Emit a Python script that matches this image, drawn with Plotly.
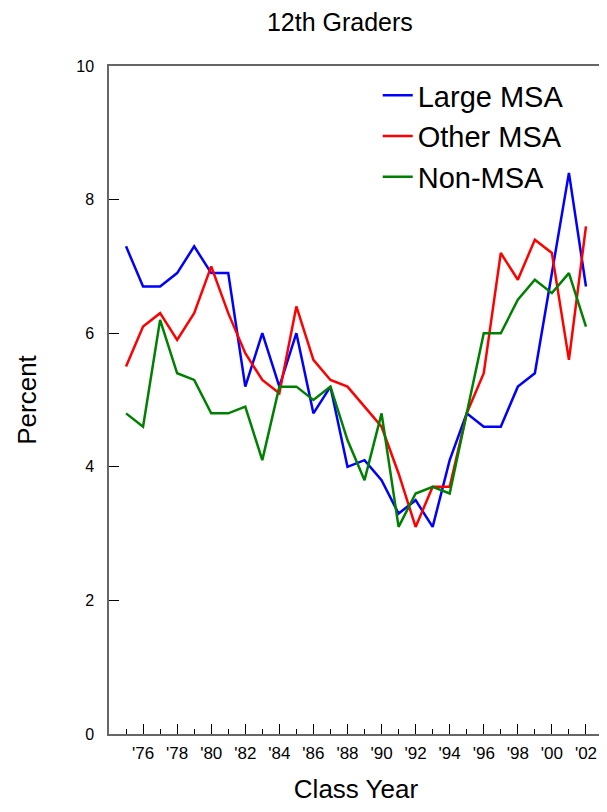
import plotly.graph_objects as go

# Class years and percent values
years = list(range(1975, 2003))

large_msa = [7.3, 6.7, 6.7, 6.9, 7.3, 6.9, 6.9, 5.2, 6.0, 5.2, 6.0, 4.8, 5.2, 4.0,
             4.1, 3.8, 3.3, 3.5, 3.1, 4.1, 4.8, 4.6, 4.6, 5.2, 5.4, 6.9, 8.4, 6.7]
other_msa = [5.5, 6.1, 6.3, 5.9, 6.3, 7.0, 6.3, 5.7, 5.3, 5.1, 6.4, 5.6, 5.3, 5.2,
             4.9, 4.6, 3.9, 3.1, 3.7, 3.7, 4.8, 5.4, 7.2, 6.8, 7.4, 7.2, 5.6, 7.6]
non_msa = [4.8, 4.6, 6.2, 5.4, 5.3, 4.8, 4.8, 4.9, 4.1, 5.2, 5.2, 5.0, 5.2, 4.4,
           3.8, 4.8, 3.1, 3.6, 3.7, 3.6, 4.8, 6.0, 6.0, 6.5, 6.8, 6.6, 6.9, 6.1]

tick_years = list(range(1976, 2003, 2))
tick_labels = ["'76", "'78", "'80", "'82", "'84", "'86", "'88",
               "'90", "'92", "'94", "'96", "'98", "'00", "'02"]

font = "Liberation Sans, Arial, sans-serif"

fig = go.Figure()
fig.add_trace(go.Scatter(x=years, y=large_msa, mode="lines", name="Large MSA",
                         line=dict(color="#0000FF", width=2.5)))
fig.add_trace(go.Scatter(x=years, y=other_msa, mode="lines", name="Other MSA",
                         line=dict(color="#FF0000", width=2.5)))
fig.add_trace(go.Scatter(x=years, y=non_msa, mode="lines", name="Non-MSA",
                         line=dict(color="#008000", width=2.5)))

# page has an 8px body margin, so the figure is sized to avoid scrollbars
fig.update_layout(
	width=598, height=796,
	margin=dict(l=101, r=1, t=58, b=68),
	plot_bgcolor="white", paper_bgcolor="white",
	font=dict(family=font, color="black"),
	title=dict(text="12th Graders", x=0.555, xanchor="center", y=0.982, yanchor="middle",
	           font=dict(size=25)),
	showlegend=True,
	legend=dict(x=0.544, y=0.994, xanchor="left", yanchor="top",
	            font=dict(size=29), bgcolor="rgba(0,0,0,0)",
	            itemwidth=30, tracegroupgap=0),
)

fig.update_xaxes(
	range=[1974, 2003], showgrid=False, zeroline=False,
	showline=True, linecolor="#666666", linewidth=1.5, mirror=True,
	tickmode="array", tickvals=tick_years, ticktext=tick_labels,
	ticks="inside", ticklen=10, tickcolor="black", tickwidth=1,
	minor=dict(ticks="inside", ticklen=5, dtick=1, tick0=1975, tickcolor="black", showgrid=False),
	tickfont=dict(size=17), ticklabelstandoff=3,
	title=dict(text="Class Year", font=dict(size=26), standoff=22),
)

fig.update_yaxes(
	range=[0, 10], showgrid=False, zeroline=False,
	showline=True, linecolor="#666666", linewidth=1.5, mirror=True,
	tickmode="linear", tick0=0, dtick=2,
	ticks="inside", ticklen=10, tickcolor="black", tickwidth=1,
	tickfont=dict(size=16), ticklabelstandoff=10,
	title=dict(text="Percent", font=dict(size=26), standoff=32),
)

fig.write_html("out.html")
